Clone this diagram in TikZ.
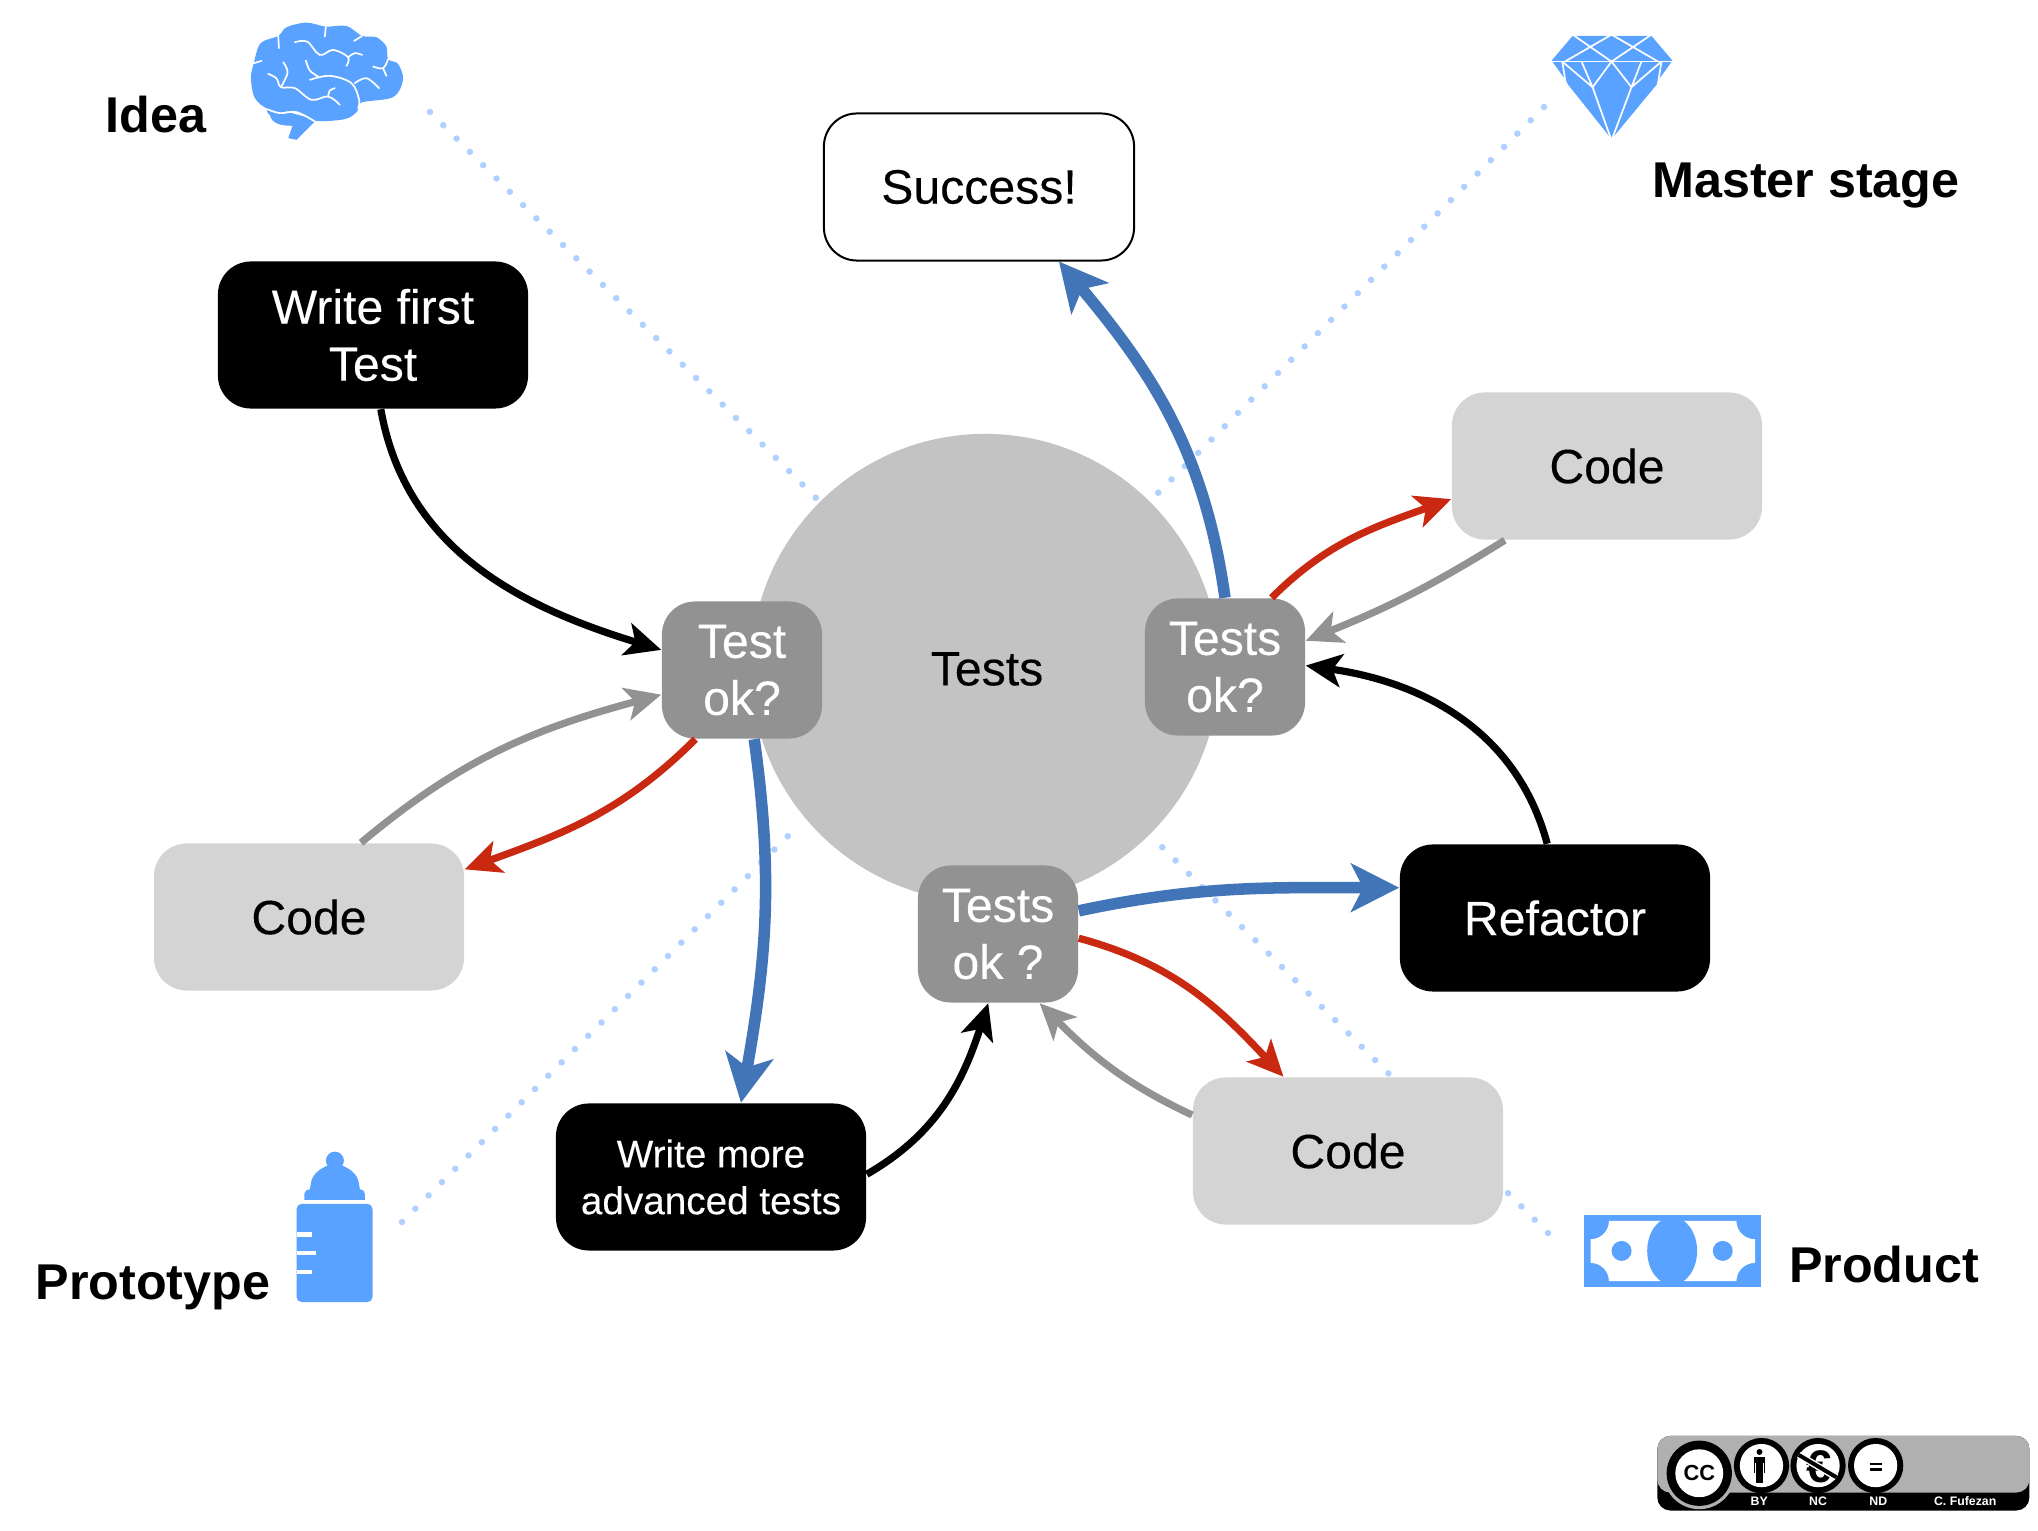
\documentclass[tikz,border=0pt]{standalone}
\usepackage{fontspec}
\setmainfont{Liberation Sans}
\newfontfamily\boxfont[FakeBold = 0.2]{Liberation Sans}
\usetikzlibrary{arrows.meta}
\definecolor{iconblue}{HTML}{5AA2FF}
\definecolor{dotblue}{HTML}{B0D0FF}
\definecolor{flowblue}{HTML}{4275B8}
\definecolor{flowred}{HTML}{C92811}
\definecolor{flowgray}{HTML}{929292}
\definecolor{testgray}{HTML}{929292}
\definecolor{codegray}{HTML}{D4D4D4}
\definecolor{ballgray}{HTML}{C3C3C3}
\definecolor{licgray}{HTML}{B0B0B0}
\tikzset{
  box/.style = {rectangle, rounded corners = 0.33cm, minimum width = 3.1cm, minimum height = 1.47cm, align = center, inner sep = 0pt, font = \boxfont\fontsize{13.7}{16.2}\selectfont, execute at begin node = {\vspace*{0.05cm}}},
  blackbox/.style = {box, fill = black, text = white},
  codebox/.style = {box, fill = codegray},
  testbox/.style = {box, fill = testgray, text = white, minimum width = 1.6cm, minimum height = 1.37cm},
  stage/.style = {font = \fontsize{14.3}{17}\selectfont\bfseries},
  dotline/.style = {dotblue, line width = 0.065cm, line cap = round, dash pattern = on 0pt off 0.188cm},
  flow/.style = {line width = 0.072cm, -{Stealth[length = 0.36cm, width = 0.33cm, inset = 0.09cm]}},
  flowbig/.style = {line width = 0.115cm, -{Stealth[length = 0.48cm, width = 0.48cm, inset = 0.12cm]}},
  sulcus/.style = {white, line width = 0.017cm, line cap = round, smooth, tension = 0.6},
  cut/.style = {white, line width = 0.017cm},
  zoomed/.style = {x = 0.003333cm, y = -0.003333cm}
}
\begin{document}
\begin{tikzpicture}[x = 0.01cm, y = -0.01cm]
\useasboundingbox (0, 0) rectangle (2038, 1531);
% dotted stage lines
\coordinate (ideaend) at (430, 112);
\coordinate (ideaball) at (825, 507);
\coordinate (masterend) at (1544, 107);
\coordinate (masterball) at (1155, 496);
\coordinate (protoend) at (402, 1222);
\coordinate (protoball) at (795, 829);
\coordinate (productend) at (1548, 1233);
\coordinate (productball) at (1161, 846);
\draw[dotline] (ideaend) -- (ideaball);
\draw[dotline] (masterend) -- (masterball);
\draw[dotline] (protoend) -- (protoball);
\draw[dotline] (productend) -- (productball);
% nodes
\node (ball) at (985, 668) [circle, fill = ballgray, minimum size = 4.68cm, inner sep = 0pt] {};
\node (tests) at (987, 669) [font = \boxfont\fontsize{13.7}{16.2}\selectfont] {Tests};
\node (writefirst) at (373, 335) [blackbox] {Write first\\Test};
\node (success) at (979, 187) [box, draw = black, line width = 0.02cm, fill = white] {Success!};
\node (codetop) at (1607, 466) [codebox] {Code};
\node (codeleft) at (309, 917) [codebox] {Code};
\node (codebottom) at (1348, 1151) [codebox] {Code};
\node (refactor) at (1555, 918) [blackbox] {Refactor};
\node (writemore) at (711, 1177) [blackbox, font = \boxfont\fontsize{11}{13.3}\selectfont] {Write more\\advanced tests};
\node (testleft) at (742, 670) [testbox] {Test\\ok?};
\node (testright) at (1225, 667) [testbox] {Tests\\ok?};
\node (testbottom) at (998, 934) [testbox] {Tests\\ok ?};
% connectors
\draw[flow] (writefirst.-84) to [out = -80, in = 163] (testleft.166);
\draw[flow, flowgray] (codeleft.55) to [out = 40, in = 195] (testleft.197);
\draw[flow, flowred] (testleft.236) to [out = -135, in = 20] (codeleft.17);
\draw[flowbig, flowblue] (testleft.-80) to [out = -82, in = 80] (writemore.68);
\draw[flow] (writemore.1) to [out = 30, in = -108] (testbottom.-98);
\draw[flow, flowgray] (codebottom.167) to [out = 155, in = -45] (testbottom.-59);
\draw[flow, flowred] (testbottom.-3) to [out = -15, in = 133] (codebottom.131);
\draw[flowbig, flowblue] (testbottom.16) to [out = 12, in = 180] (refactor.169);
\draw[flow] (refactor.96) to [out = 105, in = -8] (testright.1);
\draw[flow, flowgray] (codetop.216) to [out = 212, in = 22] (testright.18);
\draw[flow, flowred] (testright.56) to [out = 45, in = 200] (codetop.192);
\draw[flowbig, flowblue] (testright.90) to [out = 98, in = -50] (success.-43);
% stage labels
\node (idea) at (156, 115) [stage] {Idea};
\node (master) at (1806, 186) [stage] {Master stage};
\node (prototype) at (153, 1287) [stage] {Prototype};
\node (product) at (1884, 1265) [stage] {Product};
% brain
\begin{scope}[shift = {(220, 0)}, zoomed]
\fill[iconblue] (142, 320) to [out = -100, in = 160] (150, 345) to [out = -80, in = 180] (218, 378) -- (205, 415) -- (230, 420) -- (290, 360) -- cycle;
\fill[iconblue] plot[smooth cycle, tension = 0.55] coordinates {(93,235) (101,192) (122,130) (175,108) (200,82) (260,68) (318,80) (380,78) (427,108) (470,112) (500,140) (505,178) (535,192) (550,240) (520,292) (425,308) (412,335) (375,358) (285,363) (230,338) (150,330) (105,295)};
\draw[sulcus] (175,108) -- (177,145);
\draw[sulcus] (318,80) -- (315,110);
\draw[sulcus] (427,108) -- (403,123);
\draw[sulcus] plot coordinates {(225,127) (262,125) (300,165) (340,150) (385,172) (380,198)};
\draw[sulcus] plot coordinates {(385,172) (405,160) (427,165)};
\draw[sulcus] plot coordinates {(505,178) (490,205) (460,200)};
\draw[sulcus] (490,205) -- (500,228);
\draw[sulcus] plot coordinates {(258,182) (270,212) (295,230)};
\draw[sulcus] plot coordinates {(270,240) (330,228) (395,250) (418,300) (415,325)};
\draw[sulcus] plot coordinates {(405,250) (440,235) (478,265)};
\draw[sulcus] (101,190) -- (125,183);
\draw[sulcus] plot coordinates {(190,187) (203,218) (183,262)};
\draw[sulcus] plot coordinates {(145,222) (170,236) (183,262) (225,265) (275,300) (325,290) (360,315)};
\draw[sulcus] plot coordinates {(325,290) (330,272) (345,265)};
\draw[sulcus] plot coordinates {(142,328) (180,340) (230,337) (285,365)};
\end{scope}
% diamond
\begin{scope}[shift = {(1530, 10)}, zoomed]
\fill[iconblue] (128,78) -- (365,78) -- (428,152) -- (390,205) -- (380,225) -- (245,388) -- (115,225) -- (103,205) -- (65,152) -- cycle;
\draw[cut] (60,155) -- (432,155);
\draw[cut] (128,74) -- (245,155) -- (365,74);
\draw[cut] (245,74) -- (105,155);
\draw[cut] (245,74) -- (385,155);
\draw[cut] (97,155) -- (108,225);
\draw[cut] (395,155) -- (384,225);
\draw[cut] (245,155) -- (188,232) -- (245,392) -- (305,232) -- cycle;
\draw[cut] (97,155) -- (188,232) -- (155,155);
\draw[cut] (395,155) -- (305,232) -- (335,155);
\end{scope}
% bottle
\begin{scope}[shift = {(270, 1130)}, zoomed]
\fill[iconblue] (195, 92) circle [radius = 27];
\fill[iconblue] (103,210) -- (103,192) to [out = 90, in = 180] (120,178) -- (122,165) to [out = 85, in = 200] (195,98) to [out = -20, in = 95] (268,165) -- (270,178) to [out = 0, in = 90] (285,192) -- (285,210) -- cycle;
\fill[iconblue, rounded corners = 0.05cm] (80,222) rectangle (308,517);
\fill[white] (80,307) rectangle (125,321);
\fill[white] (80,363) rectangle (138,377);
\fill[white] (80,420) rectangle (125,434);
\end{scope}
% bill
\begin{scope}[shift = {(1570, 1200)}, zoomed]
\fill[iconblue] (43,45) rectangle (575,262);
\fill[white] (117,63) -- (500,63) to [out = -90, in = 180] (556,118) -- (556,189) to [out = 180, in = 90] (500,244) -- (117,244) to [out = 90, in = 0] (62,189) -- (62,118) to [out = 0, in = -90] cycle;
\begin{scope}
\clip (43,45) rectangle (575,262);
\fill[iconblue] (307,153) ellipse [x radius = 75, y radius = 102];
\end{scope}
\fill[iconblue] (155,153) circle [radius = 30];
\fill[iconblue] (459,153) circle [radius = 30];
\end{scope}
% licence badge
\begin{scope}[shift = {(1650, 1420)}, zoomed]
\fill[black, rounded corners = 0.13cm] (22,48) rectangle (1140,272);
\fill[licgray, rounded corners = 0.13cm] (22,48) rectangle (1140,218);
\fill[licgray] (148,160) circle [radius = 108];
\fill[black] (148,160) circle [radius = 98];
\fill[white] (148,160) circle [radius = 72];
\node (cc) at (148, 158) [font = \fontsize{6.2}{7}\selectfont\bfseries, inner sep = 0pt] {CC};
\fill[black] (335,137) circle [radius = 83];
\fill[white] (335,137) circle [radius = 65];
\fill[black] (329,96) circle [radius = 9];
\fill[black] (311,111) rectangle (347,158);
\fill[white] (316,130) rectangle (319,158);
\fill[white] (339,130) rectangle (342,158);
\fill[black] (319,130) rectangle (339,190);
\fill[black] (505,137) circle [radius = 83];
\fill[white] (505,137) circle [radius = 65];
\node (euro) at (507, 142) [font = \fontsize{13}{14}\selectfont\bfseries, inner sep = 0pt] {€};
\draw[white, line width = 0.07cm] (447,105) -- (560,172);
\draw[black, line width = 0.04cm] (447,105) -- (560,172);
\fill[black] (678,137) circle [radius = 83];
\fill[white] (678,137) circle [radius = 65];
\fill[black] (660,128) rectangle (696,136);
\fill[black] (660,144) rectangle (696,152);
\node (by) at (328, 243) [text = white, font = \fontsize{3.5}{4}\selectfont\bfseries, inner sep = 0pt] {BY};
\node (nc) at (505, 243) [text = white, font = \fontsize{3.5}{4}\selectfont\bfseries, inner sep = 0pt] {NC};
\node (nd) at (686, 243) [text = white, font = \fontsize{3.5}{4}\selectfont\bfseries, inner sep = 0pt] {ND};
\node (author) at (947, 243) [text = white, font = \fontsize{3.5}{4}\selectfont\bfseries, inner sep = 0pt] {C. Fufezan};
\end{scope}
\end{tikzpicture}
\end{document}
